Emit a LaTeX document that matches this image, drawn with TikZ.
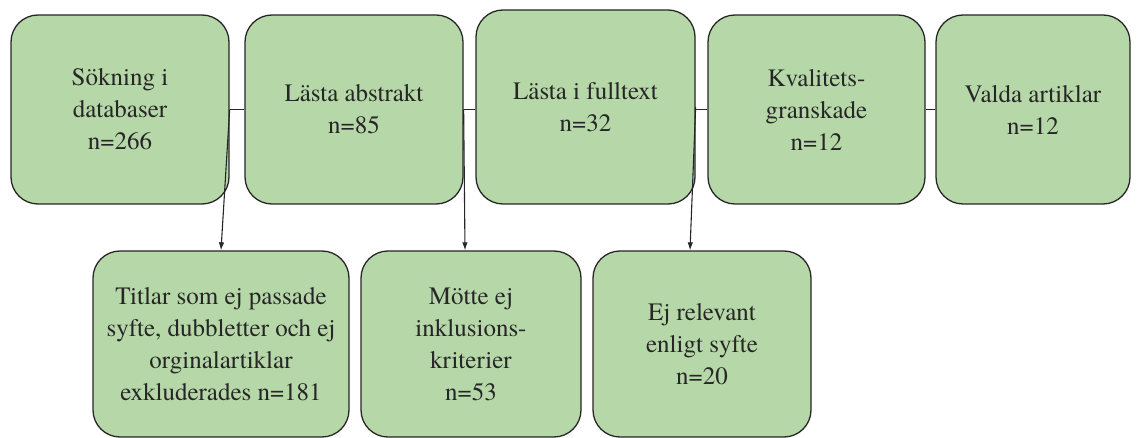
\documentclass[tikz,border=0pt]{standalone}
\usepackage{fontspec}
\setmainfont{texgyretermes}[Extension=.otf, UprightFont=*-regular]
\usetikzlibrary{arrows.meta}
\definecolor{boxgreen}{HTML}{B6D7A8}
\definecolor{txt}{HTML}{262626}
\tikzset{
  stagebox/.style={draw=black!85, fill=boxgreen, line width=1.3pt, rounded corners=27pt,
    align=center, inner sep=0pt, text=txt, font=\fontsize{25}{32}\selectfont},
  link/.style={draw=black!85, line width=1.1pt},
  exarrow/.style={link, -{Latex[length=8pt,width=5.5pt]}}
}
\begin{document}
\begin{tikzpicture}[x=1pt,y=-1pt]
\useasboundingbox (0,0) rectangle (1141,438);
\node[stagebox, minimum width=218pt, minimum height=189pt] (b1) at (120,109.5) {Sökning i\\databaser\\n=266};
\node[stagebox, minimum width=218pt, minimum height=189pt] (b2) at (354,109.5) {Lästa abstrakt\\n=85};
\node[stagebox, minimum width=219pt, minimum height=194pt] (b3) at (585.5,107) {Lästa i fulltext\\n=32};
\node[stagebox, minimum width=217pt, minimum height=189pt] (b4) at (816.5,109.5) {Kvalitets-\\granskade\\n=12};
\node[stagebox, minimum width=194pt, minimum height=189pt] (b5) at (1033,109.5) {Valda artiklar\\n=12};
\node[stagebox, minimum width=256pt, minimum height=186pt] (b6) at (221,344) {Titlar som ej passade\\syfte, dubbletter och ej\\orginalartiklar\\exkluderades n=181};
\node[stagebox, minimum width=220pt, minimum height=186pt] (b7) at (471,344) {Mötte ej\\inklusions-\\kriterier\\n=53};
\node[stagebox, minimum width=218pt, minimum height=186pt] (b8) at (702,344) {Ej relevant\\enligt syfte\\n=20};
\draw[link] (b1.east) -- (b2.west);
\draw[link] (b2.east) -- (b2.east -| b3.west);
\draw[link] (b3.east |- b4.west) -- (b4.west);
\draw[link] (b4.east) -- (b5.west);
\draw[exarrow] (b1.east) -- (b6.north);
\draw[exarrow] (b2.east) -- ([xshift=-6pt]b7.north);
\draw[exarrow] (b3.east) -- ([xshift=-12pt]b8.north);
\end{tikzpicture}
\end{document}
